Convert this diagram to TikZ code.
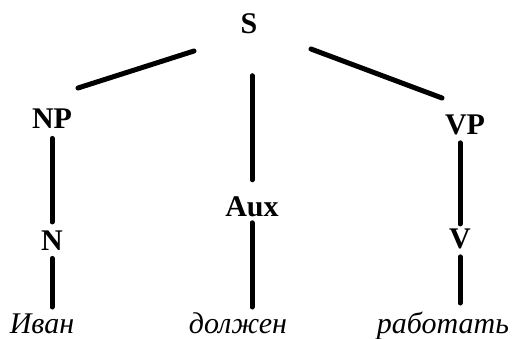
\documentclass[tikz,border=0pt]{standalone}
\usepackage{fontspec}
\setmainfont{Liberation Serif}
\begin{document}
\begin{tikzpicture}[x=.5pt, y=-.5pt,
    cat/.style={font=\bfseries\fontsize{15}{18}\selectfont, inner sep=0pt, anchor=base},
    word/.style={font=\itshape\fontsize{15}{18}\selectfont, inner sep=0pt, anchor=base},
    branch/.style={line width=2.5pt, line cap=round}]
    \useasboundingbox (0,0) rectangle (512,338);
    \node[cat] (S) at (249, 33) {S};
    \node[cat] (NP) at (52, 128) {NP};
    \node[cat] (Aux) at (252, 216) {Aux};
    \node[cat] (VP) at (465, 134) {VP};
    \node[cat] (N) at (52, 250) {N};
    \node[cat] (V) at (460, 248) {V};
    \node[word] (ivan) at (42, 333) {Иван};
    \node[word] (dolzhen) at (238, 333) {должен};
    \node[word] (rabotat) at (443, 333) {работать};
    \draw[branch] ([xshift=-27.5pt, yshift=-9pt]S.base) -- ([xshift=13pt, yshift=20pt]NP.base);
    \draw[branch] ([xshift=31pt, yshift=-8pt]S.base) -- ([xshift=-11.5pt, yshift=18pt]VP.base);
    \draw[branch, shorten <=21pt, shorten >=8pt] (Aux.north |- S.south) -- (Aux.north);
    \draw[branch, shorten <=5pt, shorten >=4pt] (NP.south) -- (N.north);
    \draw[branch, shorten <=4pt, shorten >=2pt] (V.north |- VP.south) -- (V.north);
    \draw[branch, shorten <=4pt, shorten >=13pt] (N.south) -- (N.south |- ivan.base);
    \draw[branch, shorten <=3pt, shorten >=13pt] (Aux.south) -- (Aux.south |- dolzhen.base);
    \draw[branch, shorten <=4pt, shorten >=15pt] (V.south) -- (V.south |- rabotat.base);
\end{tikzpicture}
\end{document}
